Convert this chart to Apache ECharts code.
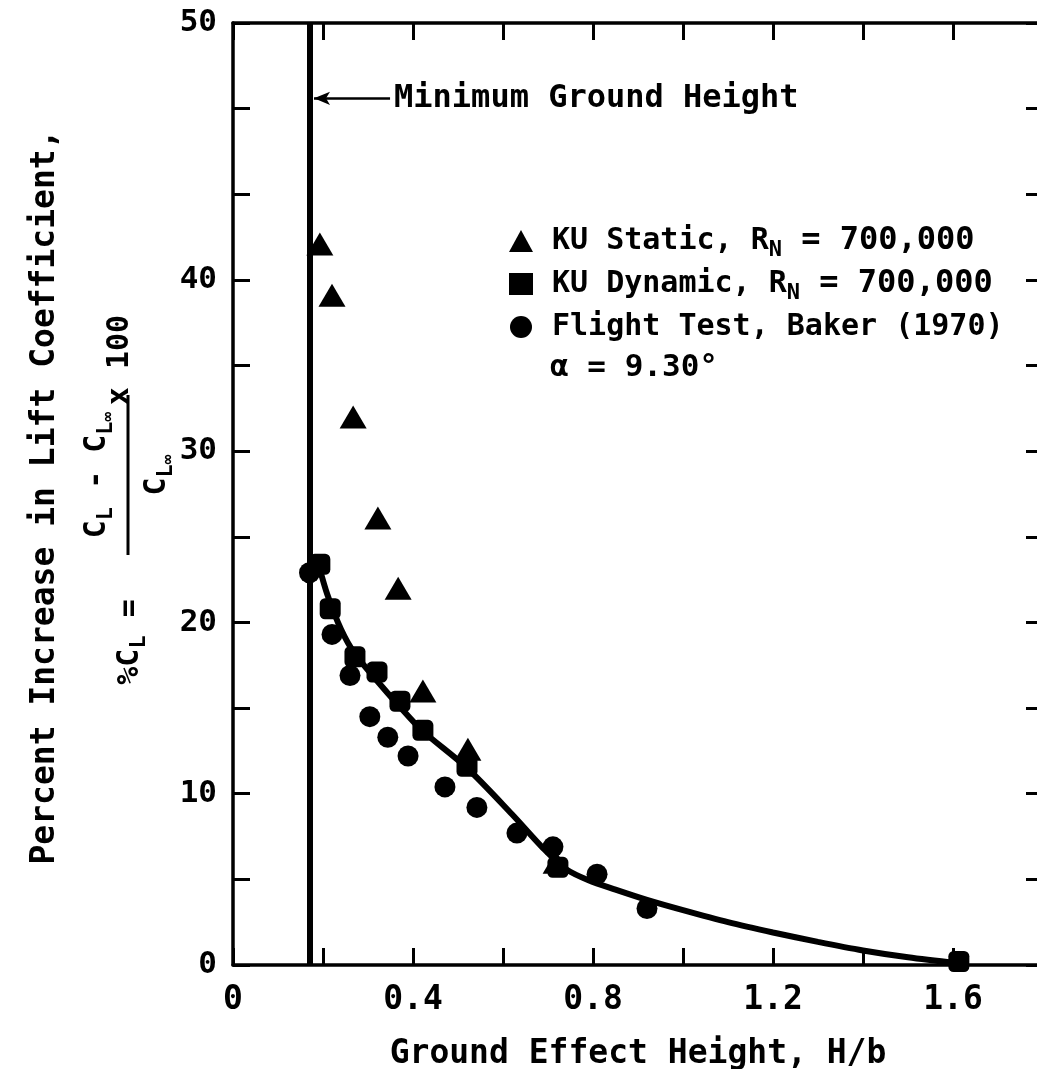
<!DOCTYPE html>
<html>
<head>
<meta charset="utf-8">
<script src="https://cdn.jsdelivr.net/npm/echarts@6/dist/echarts.min.js"></script>
<style>
  html, body { margin: 0; padding: 0; background: #fff; }
  #chart { width: 1037px; height: 1069px; }
</style>
</head>
<body>
<div id="chart"></div>
<script>
// KU static data (triangles)
var staticX = [0.193, 0.220, 0.267, 0.322, 0.367, 0.422, 0.522, 0.718];
var staticY = [42.1, 39.1, 32.0, 26.1, 22.0, 16.0, 12.6, 6.0];
// KU dynamic data (squares)
var dynamicX = [0.193, 0.216, 0.271, 0.320, 0.371, 0.422, 0.520, 0.722, 1.613];
var dynamicY = [23.4, 20.8, 18.0, 17.1, 15.4, 13.7, 11.6, 5.7, 0.2];
// flight test, Baker (1970) (circles)
var flightX = [0.170, 0.220, 0.260, 0.304, 0.344, 0.389, 0.471, 0.542, 0.631, 0.711, 0.809, 0.920];
var flightY = [22.9, 19.3, 16.9, 14.5, 13.3, 12.2, 10.4, 9.2, 7.7, 6.9, 5.3, 3.3];
// faired curve
var fitX = [0.19, 0.21, 0.24, 0.27, 0.32, 0.37, 0.42, 0.52, 0.62, 0.69, 0.74, 0.79, 0.85, 0.92, 1.00, 1.10, 1.20, 1.30, 1.40, 1.50, 1.61];
var fitY = [23.4, 21.6, 19.6, 18.2, 16.6, 15.1, 13.7, 11.5, 8.8, 6.8, 5.6, 4.95, 4.4, 3.8, 3.2, 2.5, 1.9, 1.35, 0.85, 0.45, 0.1];

var minGroundHeight = 0.173;
var xTickLabels = [0, 0.4, 0.8, 1.2, 1.6];
var yTickValues = [0, 10, 20, 30, 40, 55];
var yTickText = ['0', '10', '20', '30', '40', '50'];

var mono = "'DejaVu Sans Mono', monospace";

function pairs(xs, ys) {
  return xs.map(function (x, i) { return [x, ys[i]]; });
}

var subRich = {
  sub: { fontSize: 22, fontFamily: mono, fontWeight: 'bold', lineHeight: 22, verticalAlign: 'bottom' },
  ss: { fontSize: 16, fontFamily: mono, fontWeight: 'bold', lineHeight: 10, verticalAlign: 'bottom' },
  big: { fontSize: 32, fontFamily: mono, fontWeight: 'bold', lineHeight: 40 }
};

var legendText = {
  'KU Static': 'KU Static, R{sub|N}{big| = 700,000}',
  'KU Dynamic': 'KU Dynamic, R{sub|N}{big| = 700,000}',
  'Flight Test': 'Flight Test, Baker (1970)'
};

var axisLine = { show: true, onZero: false, lineStyle: { color: '#000', width: 3.5 } };
var axisTick = { show: true, inside: true, length: 17, lineStyle: { color: '#000', width: 3 } };

var chart = echarts.init(document.getElementById('chart'));

var option = {
  backgroundColor: '#fff',
  animation: false,
  grid: { left: 233, top: 23, width: 810, bottom: 104, containLabel: false, outerBoundsMode: 'none' },
  xAxis: [{
    type: 'value', min: 0, max: 1.8, interval: 0.2,
    axisLine: axisLine, axisTick: axisTick,
    splitLine: { show: false },
    axisLabel: {
      color: '#000', fontFamily: mono, fontWeight: 'bold', fontSize: 33, margin: 19,
      formatter: function (v) {
        for (var i = 0; i < xTickLabels.length; i++) {
          if (Math.abs(xTickLabels[i] - v) < 1e-6) return v === 0 ? '0' : v.toFixed(1);
        }
        return '';
      }
    },
    name: 'Ground Effect Height, H/b', nameLocation: 'middle', nameGap: 73,
    nameTextStyle: { color: '#000', fontFamily: mono, fontWeight: 'bold', fontSize: 33 }
  }, {
    type: 'value', min: 0, max: 1.8, interval: 0.2, position: 'top',
    axisLine: axisLine, axisTick: axisTick,
    axisLabel: { show: false }, splitLine: { show: false }
  }],
  yAxis: [{
    type: 'value', min: 0, max: 55, interval: 5,
    axisLine: axisLine, axisTick: axisTick,
    splitLine: { show: false },
    axisLabel: {
      color: '#000', fontFamily: mono, fontWeight: 'bold', fontSize: 31, margin: 16,
      formatter: function (v) {
        var i = yTickValues.indexOf(v);
        return i >= 0 ? yTickText[i] : '';
      }
    }
  }, {
    type: 'value', min: 0, max: 55, interval: 5, position: 'right',
    axisLine: axisLine, axisTick: axisTick,
    axisLabel: { show: false }, splitLine: { show: false }
  }],
  legend: {
    orient: 'vertical', left: 504, top: 216, itemGap: 3,
    itemWidth: 24, itemHeight: 22,
    data: [
      { name: 'KU Static', icon: 'triangle' },
      { name: 'KU Dynamic', icon: 'rect' },
      { name: 'Flight Test', icon: 'circle' }
    ],
    formatter: function (name) { return legendText[name]; },
    textStyle: {
      color: '#000', fontFamily: mono, fontWeight: 'bold', fontSize: 30, lineHeight: 40,
      padding: [0, 0, 0, 14], rich: subRich
    }
  },
  graphic: [
    {
      type: 'text', left: 550, top: 352,
      style: { text: 'α = 9.30°', fill: '#000', font: 'bold 31px ' + mono }
    },
    {
      type: 'group', x: 45, y: 497, rotation: Math.PI / 2,
      children: [
        {
          type: 'text', x: 0, y: 0,
          style: { text: 'Percent Increase in Lift Coefficient,', fill: '#000', font: 'bold 33px ' + mono, align: 'center', verticalAlign: 'middle' }
        },
        {
          type: 'text', x: -145, y: 85,
          style: {
            text: '%C{sub|L} =', fill: '#000', fontFamily: mono, fontWeight: 'bold', fontSize: 30, lineHeight: 40,
            align: 'center', verticalAlign: 'middle', rich: subRich
          }
        },
        {
          type: 'text', x: 22, y: 52,
          style: {
            text: 'C{sub|L} - C{sub|L}{ss|∞}', fill: '#000', fontFamily: mono, fontWeight: 'bold', fontSize: 30, lineHeight: 40,
            align: 'center', verticalAlign: 'middle', rich: subRich
          }
        },
        {
          type: 'line', shape: { x1: -58, y1: 83, x2: 102, y2: 83 },
          style: { stroke: '#000', lineWidth: 3 }
        },
        {
          type: 'text', x: 22, y: 112,
          style: {
            text: 'C{sub|L}{ss|∞}', fill: '#000', fontFamily: mono, fontWeight: 'bold', fontSize: 30, lineHeight: 40,
            align: 'center', verticalAlign: 'middle', rich: subRich
          }
        },
        {
          type: 'text', x: 137, y: 75,
          style: { text: 'x 100', fill: '#000', font: 'bold 30px ' + mono, align: 'center', verticalAlign: 'middle' }
        }
      ]
    }
  ],
  series: [
    {
      name: 'Fit', type: 'line', data: pairs(fitX, fitY), showSymbol: false, smooth: 0.3,
      lineStyle: { color: '#000', width: 6 }, z: 3,
      markLine: {
        silent: true, animation: false, symbol: ['none', 'none'],
        data: [
          { xAxis: minGroundHeight, lineStyle: { color: '#000', width: 6, type: 'solid' }, label: { show: false } },
          [
            {
              coord: [0.349, 50.6], symbol: 'none',
              lineStyle: { color: '#000', width: 2.5, type: 'solid' },
              label: {
                show: true, position: 'start', distance: 4, formatter: 'Minimum Ground Height',
                color: '#000', fontFamily: mono, fontWeight: 'bold', fontSize: 32
              }
            },
            { coord: [0.180, 50.6], symbol: 'arrow', symbolSize: [10, 16] }
          ]
        ]
      }
    },
    {
      name: 'KU Static', type: 'scatter', data: pairs(staticX, staticY),
      symbol: 'triangle', symbolSize: [27, 23], itemStyle: { color: '#000', opacity: 1 }, z: 4
    },
    {
      name: 'KU Dynamic', type: 'scatter', data: pairs(dynamicX, dynamicY),
      symbol: 'roundRect', symbolSize: 21, itemStyle: { color: '#000', opacity: 1 }, z: 4
    },
    {
      name: 'Flight Test', type: 'scatter', data: pairs(flightX, flightY),
      symbol: 'circle', symbolSize: 21, itemStyle: { color: '#000', opacity: 1 }, z: 4
    }
  ]
};

chart.setOption(option);
</script>
</body>
</html>
